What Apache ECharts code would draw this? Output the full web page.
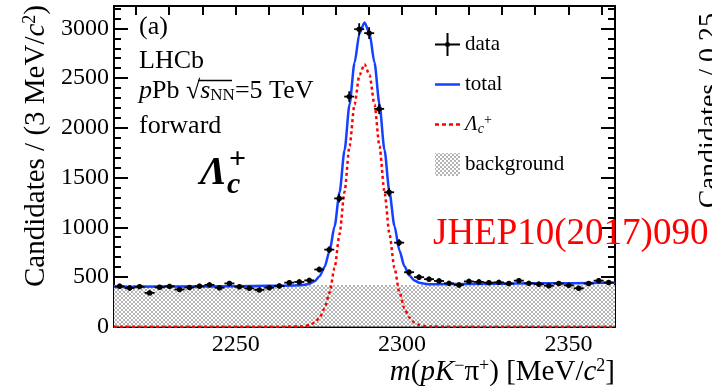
<!DOCTYPE html>
<html><head><meta charset="utf-8">
<script src="https://cdn.jsdelivr.net/npm/echarts@6/dist/echarts.min.js"></script>
<style>html,body{margin:0;padding:0;background:#fff}#c{width:712px;height:389px}</style>
</head><body><div id="c"></div><script>
// ---- data ----
const binCenters=[2215.1,2218.1,2221.1,2224.1,2227.1,2230.1,2233.1,2236.1,2239.1,2242.1,
2245.1,2248.1,2251.1,2254.1,2257.1,2260.1,2263.1,2266.1,2269.1,2272.1,
2275.1,2278.1,2281.1,2284.1,2287.1,2290.1,2293.1,2296.1,2299.1,2302.1,
2305.1,2308.1,2311.1,2314.1,2317.1,2320.1,2323.1,2326.1,2329.1,2332.1,
2335.1,2338.1,2341.1,2344.1,2347.1,2350.1,2353.1,2356.1,2359.1,2362.1];
const counts=[407,389,403,340,396,406,374,394,407,421,392,435,402,386,370,392,410,443,450,466,
575,775,1290,2314,2992,2952,2190,1352,845,548,498,478,460,436,420,455,450,443,446,434,
463,436,428,412,434,416,386,434,463,444];
const curveMass=[2213.4,2240,2260,2267.7,2269.2,2270.7,2272.2,2273.7,2275.2,2276.7,2278.2,2279.7,2281.2,2282.7,2284.2,2285.7,2287.2,2288.7,2290.2,2291.7,2293.2,2294.7,2296.2,2297.7,2299.2,2300.7,2302.2,2303.7,2305.2,2306.7,2308.2,2309.7,2320,2340,2364];
const totalFit=[400,405,411,415,417,422,433,457,507,601,761,1009,1351,1775,2235,2654,2952,3060,2952,2656,2237,1779,1355,1013,767,607,515,465,441,432,428,428,430,436,442];
const signalFit=[0,0,0,1,2,7,17,41,91,184,344,591,933,1357,1816,2235,2532,2640,2532,2235,1816,1357,933,591,344,184,91,41,17,7,2,1,0,0,0];
const bkgMass=[2213.4,2364.0];
const bkgLevel=[420,420];
const xMajorTicks=[2250,2300,2350];
const xMinorTicks=[2220,2230,2240,2260,2270,2280,2290,2310,2320,2330,2340,2360];
const xTopTicks=[2220,2230,2240,2250,2260,2270,2280,2290,2300,2310,2320,2330,2340,2350,2360];
const yMajorTicks=[0,500,1000,1500,2000,2500,3000];
const yMinorTicks=[100,200,300,400,600,700,800,900,1100,1200,1300,1400,1600,1700,1800,1900,2100,2200,2300,2400,2600,2700,2800,2900,3100,3200];
const xMin=2213.4,xMax=2364.0,yMin=0,yMax=3225;
// ------------------------------------
const F='Liberation Serif';
const pc=document.createElement('canvas');pc.width=4;pc.height=4;
const g=pc.getContext('2d');g.fillStyle='#fff';g.fillRect(0,0,4,4);g.fillStyle='#b4b4b4';
for(let i=0;i<4;i++){g.fillRect(i,i,1,1);g.fillRect(3-i,i,1,1);}
const hatch={image:pc,repeat:'repeat'};
const zip=(a,b)=>a.map((v,i)=>[v,b[i]]);
const plain=v=>String(v);
function xa(pos,ticks,len,labels,line){
  return {type:'value',min:xMin,max:xMax,position:pos,
    axisLine:{show:line,onZero:false,lineStyle:{color:'#000',width:2}},
    axisTick:{show:true,inside:true,length:len,customValues:ticks,lineStyle:{color:'#000',width:2}},
    axisLabel:labels?{show:true,customValues:labels,formatter:plain,fontFamily:F,fontSize:24,color:'#000',margin:6}:{show:false},
    splitLine:{show:false}};
}
function ya(pos,ticks,len,labels,line){
  return {type:'value',min:yMin,max:yMax,position:pos,
    axisLine:{show:line,onZero:false,lineStyle:{color:'#000',width:2}},
    axisTick:{show:true,inside:true,length:len,customValues:ticks,lineStyle:{color:'#000',width:2}},
    axisLabel:labels?{show:true,customValues:labels,formatter:plain,fontFamily:F,fontSize:24,color:'#000',margin:5}:{show:false},
    splitLine:{show:false}};
}
const chart=echarts.init(document.getElementById('c'),null,{renderer:'canvas'});
const corners='M0,0h0.01v0.01h-0.01Z M24.99,22.99h0.01v0.01h-0.01Z ';
chart.setOption({
  animation:false,
  grid:{left:114,right:97,top:6,bottom:62.3,containLabel:false},
  xAxis:[xa('bottom',xMajorTicks,11,xMajorTicks,true),xa('bottom',xMinorTicks,5,null,false),xa('top',xTopTicks,9,null,true)],
  yAxis:[ya('left',yMajorTicks,14,yMajorTicks,true),ya('left',yMinorTicks,7,null,false),ya('right',yMajorTicks,14,null,true),ya('right',yMinorTicks,7,null,false)],
  legend:{orient:'vertical',left:430,top:28,itemWidth:25,itemHeight:23,itemGap:17,selectedMode:false,
    textStyle:{fontFamily:F,fontSize:21,color:'#000',lineHeight:23,
      rich:{i:{fontFamily:F,fontSize:21,fontStyle:'italic',lineHeight:23},
            sub:{fontFamily:F,fontSize:14,fontStyle:'italic',verticalAlign:'bottom',lineHeight:13},
            sup:{fontFamily:F,fontSize:14,verticalAlign:'top',lineHeight:13}}},
    formatter:n=>n==='Lc'?'{i|Λ}{sub|c}{sup|+}':n,
    data:[{name:'data',icon:'path://M0,10.5H25V12.5H0Z M11.5,0H13.5V23H11.5Z M15,11.5A2.5,2.5 0 1 1 10,11.5A2.5,2.5 0 1 1 15,11.5Z',itemStyle:{color:'#000'}},
          {name:'total',icon:'path://'+corners+'M0,10.2H25V12.8H0Z',itemStyle:{color:'#1540ff'}},
          {name:'Lc',icon:'path://'+corners+'M0,10.2h4v2.6h-4Z M7,10.2h4v2.6h-4Z M14,10.2h4v2.6h-4Z M21,10.2h4v2.6h-4Z',itemStyle:{color:'#ff0000'}},
          {name:'background',icon:'rect',itemStyle:{color:hatch}}]},
  series:[
    {name:'background',type:'line',data:zip(bkgMass,bkgLevel),symbol:'none',z:1,
     lineStyle:{width:0,opacity:0},areaStyle:{color:hatch,opacity:1},itemStyle:{color:hatch}},
    {name:'Lc',type:'line',data:zip(curveMass,signalFit),symbol:'none',smooth:0.25,smoothMonotone:'x',z:3,
     lineStyle:{color:'#ff0000',width:2.5,type:[3,3]},itemStyle:{color:'#ff0000'}},
    {name:'total',type:'line',data:zip(curveMass,totalFit),symbol:'none',smooth:0.25,smoothMonotone:'x',z:4,
     lineStyle:{color:'#1540ff',width:2.5},itemStyle:{color:'#1540ff'}},
    {name:'data',type:'custom',z:6,itemStyle:{color:'#000'},data:zip(binCenters,counts),
     renderItem:function(params,api){
       const x=api.value(0),y=api.value(1),e=Math.sqrt(y);
       const c=api.coord([x,y]),l=api.coord([x-1.5,y]),r=api.coord([x+1.5,y]);
       const t=api.coord([x,y+e]),b=api.coord([x,y-e]);
       const st={stroke:'#000',lineWidth:1.8};
       return {type:'group',children:[
         {type:'line',shape:{x1:l[0],y1:c[1],x2:r[0],y2:c[1]},style:st},
         {type:'line',shape:{x1:c[0],y1:t[1]-0.5,x2:c[0],y2:b[1]+0.5},style:st},
         {type:'circle',shape:{cx:c[0],cy:c[1],r:2.7},style:{fill:'#000'}}]};
     }}
  ],
  graphic:[
    {type:'text',x:139,y:27,style:{text:'(a)',fontFamily:F,fontSize:26,fill:'#000',verticalAlign:'middle'}},
    {type:'text',x:139,y:61.5,style:{text:'LHCb',fontFamily:F,fontSize:26,fill:'#000',verticalAlign:'middle'}},
    {type:'text',x:139,y:91.5,style:{text:'{i|p}Pb √{i|s}{nn|NN}=5 TeV',fontFamily:F,fontSize:26,fill:'#000',verticalAlign:'middle',
      rich:{i:{fontFamily:F,fontSize:26,fontStyle:'italic'},nn:{fontFamily:F,fontSize:17,verticalAlign:'bottom',lineHeight:20}}}},
    {type:'line',shape:{x1:198,y1:80.5,x2:232,y2:80.5},style:{stroke:'#000',lineWidth:1.3}},
    {type:'text',x:139,y:126.5,style:{text:'forward',fontFamily:F,fontSize:26,fill:'#000',verticalAlign:'middle'}},
    {type:'text',x:200,y:174,style:{text:'Λ',fontFamily:F,fontSize:40,fontWeight:'bold',fontStyle:'italic',fill:'#000',verticalAlign:'middle'}},
    {type:'text',x:227,y:185,style:{text:'c',fontFamily:F,fontSize:30,fontWeight:'bold',fontStyle:'italic',fill:'#000',verticalAlign:'middle'}},
    {type:'text',x:229,y:160,style:{text:'+',fontFamily:F,fontSize:30,fontWeight:'bold',fill:'#000',verticalAlign:'middle'}},
    {type:'text',x:615,y:372,style:{text:'{i|m}({i|pK}{sup|−}π{sup|+}) [MeV/{i|c}{sup|2}]',fontFamily:F,fontSize:29,fill:'#000',align:'right',verticalAlign:'middle',
      rich:{i:{fontFamily:F,fontSize:29,fontStyle:'italic'},sup:{fontFamily:F,fontSize:18,verticalAlign:'top',lineHeight:15}}}},
    {type:'text',x:36,y:5,rotation:Math.PI/2,style:{text:'Candidates / (3 MeV/{i|c}{sup|2})',fontFamily:F,fontSize:29,fill:'#000',align:'right',verticalAlign:'middle',
      rich:{i:{fontFamily:F,fontSize:29,fontStyle:'italic'},sup:{fontFamily:F,fontSize:18,verticalAlign:'top',lineHeight:15}}}},
    {type:'text',x:710,y:13,rotation:Math.PI/2,style:{text:'Candidates / 0.25',fontFamily:F,fontSize:28,fill:'#000',align:'right',verticalAlign:'middle'}},
    {type:'text',x:433,y:234.5,z:100,style:{text:'JHEP10(2017)090',fontFamily:F,fontSize:37,fill:'#ff0000',verticalAlign:'middle'}}
  ]
});
</script></body></html>
